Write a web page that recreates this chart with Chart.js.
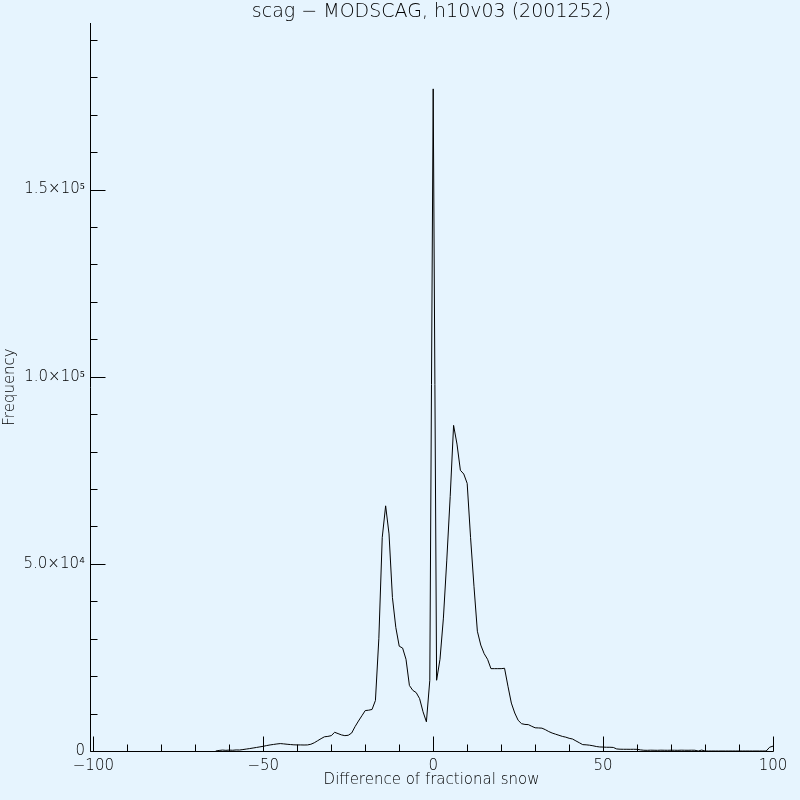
<!DOCTYPE html>
<html>
<head>
<meta charset="utf-8">
<script src="https://cdn.jsdelivr.net/npm/chart.js@4.4.0/dist/chart.umd.min.js"></script>
<style>
  html, body { margin: 0; padding: 0; background: #e6f4fe; }
  #wrap { width: 800px; height: 800px; }
</style>
</head>
<body>
<div id="wrap"><canvas id="chart" width="800" height="800"></canvas></div>
<script>
// histogram bins (difference of fractional snow, %)
const diffBins = [
  -64, -63, -62, -61, -60, -59, -58, -57, -56, -55,
  -54, -53, -52, -51, -50, -49, -48, -47, -46, -45,
  -44, -43, -42, -41, -40, -39, -38, -37, -36, -35,
  -34, -33, -32, -31, -30, -29, -28, -27, -26, -25,
  -24, -23, -22, -21, -20, -19, -18, -17, -16, -15,
  -14, -13, -12, -11, -10, -9, -8, -7, -6, -5,
  -4, -3, -2, -1, 0, 1, 2, 3, 4, 5,
  6, 7, 8, 9, 10, 11, 12, 13, 14, 15,
  16, 17, 18, 19, 20, 21, 22, 23, 24, 25,
  26, 27, 28, 29, 30, 31, 32, 33, 34, 35,
  36, 37, 38, 39, 40, 41, 42, 43, 44, 45,
  46, 47, 48, 49, 50, 51, 52, 53, 54, 55,
  56, 57, 58, 59, 60, 61, 62, 63, 64, 65,
  66, 67, 68, 69, 70, 71, 72, 73, 74, 75,
  76, 77, 78, 79, 80, 81, 82, 83, 84, 85,
  86, 87, 88, 89, 90, 91, 92, 93, 94, 95,
  96, 97, 98, 99, 100
];
const frequency = [
  0, 150, 250, 180, 240, 200, 280, 260, 380, 520,
  650, 800, 950, 1100, 1260, 1450, 1620, 1750, 1880, 1980,
  1900, 1800, 1720, 1650, 1620, 1620, 1600, 1620, 1800, 2200,
  2750, 3300, 3800, 3900, 4100, 5000, 4650, 4300, 4100, 4200,
  4800, 6500, 8000, 9400, 10800, 10900, 11100, 13500, 30000, 57000,
  65500, 58000, 41000, 33000, 28000, 27500, 24500, 17500, 16200, 15600,
  14000, 10500, 7800, 18900, 176900, 18900, 24500, 35500, 51000, 68000,
  87000, 82000, 75000, 74000, 71500, 57000, 44000, 32000, 28300, 26000,
  24500, 22000, 22000, 22000, 22000, 22100, 17300, 12800, 10150, 8200,
  7300, 7100, 7050, 6600, 6200, 6160, 6100, 5700, 5200, 4800,
  4500, 4200, 3900, 3700, 3400, 3200, 2700, 2200, 1700, 1650,
  1550, 1400, 1200, 1080, 1050, 1000, 1000, 950, 550, 480,
  460, 460, 450, 460, 450, 300, 200, 180, 220, 200,
  180, 220, 200, 190, 210, 200, 180, 220, 200, 190,
  210, 200, 0, 250, 0, 0, 0, 0, 0, 0,
  0, 0, 0, 0, 0, 0, 0, 0, 0, 0,
  0, 0, 0, 1000, 1300
];

const xTicks = [-100, -50, 0, 50, 100];
const xMinorTicks = [-90, -80, -70, -60, -40, -30, -20, -10, 10, 20, 30, 40, 60, 70, 80, 90];
const yTicks = [0, 50000, 100000, 150000];
const yTickLabels = ['0', '5.0×10⁴', '1.0×10⁵', '1.5×10⁵'];
const yMinorTicks = [10000, 20000, 30000, 40000, 60000, 70000, 80000, 90000,
  110000, 120000, 130000, 140000, 160000, 170000, 180000, 190000];

const BG = '#e6f4fe';
const FONT = 'DejaVu Sans';

// IDL-style axes: inward ticks, no box on top/right
const idlAxes = {
  id: 'idlAxes',
  beforeDraw(chart) {
    const ctx = chart.ctx;
    ctx.save();
    ctx.fillStyle = BG;
    ctx.fillRect(0, 0, chart.width, chart.height);
    ctx.restore();
  },
  afterDatasetsDraw(chart) {
    const { ctx, chartArea: a, scales: { x, y } } = chart;
    const left = Math.round(a.left) + 0.5;
    const bottom = Math.round(a.bottom) + 0.5;
    ctx.save();
    ctx.strokeStyle = '#000';
    ctx.lineWidth = 1;
    ctx.beginPath();
    ctx.moveTo(left, Math.round(a.top));
    ctx.lineTo(left, bottom);
    ctx.lineTo(Math.round(a.right) + 0.5, bottom);
    xTicks.forEach(v => {
      const px = Math.round(x.getPixelForValue(v)) + 0.5;
      ctx.moveTo(px, bottom); ctx.lineTo(px, bottom - 15);
    });
    xMinorTicks.forEach(v => {
      const px = Math.round(x.getPixelForValue(v)) + 0.5;
      ctx.moveTo(px, bottom); ctx.lineTo(px, bottom - 7);
    });
    yTicks.forEach(v => {
      const py = Math.round(y.getPixelForValue(v)) + 0.5;
      ctx.moveTo(left, py); ctx.lineTo(left + 15, py);
    });
    yMinorTicks.forEach(v => {
      const py = Math.round(y.getPixelForValue(v)) + 0.5;
      ctx.moveTo(left, py); ctx.lineTo(left + 7, py);
    });
    ctx.stroke();

    ctx.fillStyle = '#000';
    ctx.font = '200 19px "' + FONT + '"';
    ctx.textAlign = 'center';
    ctx.textBaseline = 'middle';
    ctx.fillText('scag − MODSCAG, h10v03 (2001252)', (a.left + a.right) / 2, 12);
    ctx.restore();
  }
};

new Chart(document.getElementById('chart'), {
  type: 'scatter',
  data: {
    datasets: [{
      data: diffBins.map((b, i) => ({ x: b, y: frequency[i] })),
      showLine: true,
      borderColor: '#000',
      borderWidth: 1,
      pointRadius: 0,
      tension: 0
    }]
  },
  options: {
    responsive: false,
    animation: false,
    layout: { padding: { left: 0, right: 27, top: 23, bottom: 0 } },
    plugins: { legend: { display: false }, tooltip: { enabled: false } },
    scales: {
      x: {
        type: 'linear',
        min: -101,
        max: 100,
        afterBuildTicks: s => { s.ticks = xTicks.map(v => ({ value: v })); },
        afterFit: s => { s.height = 49; },
        grid: { display: false, drawTicks: false },
        border: { display: false },
        ticks: {
          color: '#000',
          padding: 6,
          maxRotation: 0,
          font: { family: FONT, size: 15, weight: 200 },
          callback: v => (v < 0 ? '−' + Math.abs(v) : String(v))
        },
        title: {
          display: true,
          text: 'Difference of fractional snow',
          color: '#000',
          font: { family: FONT, size: 15, weight: 200, lineHeight: 1 },
          padding: { top: 0, bottom: 12 }
        }
      },
      y: {
        type: 'linear',
        min: 0,
        max: 194500,
        afterBuildTicks: s => { s.ticks = yTicks.map(v => ({ value: v })); },
        afterFit: s => { s.width = 90; },
        grid: { display: false, drawTicks: false },
        border: { display: false },
        ticks: {
          color: '#000',
          padding: 5,
          font: { family: FONT, size: 15, weight: 200 },
          callback: v => yTickLabels[yTicks.indexOf(v)]
        },
        title: {
          display: true,
          text: 'Frequency',
          color: '#000',
          font: { family: FONT, size: 15, weight: 200, lineHeight: 1 },
          padding: { top: 3, bottom: 0 }
        }
      }
    }
  },
  plugins: [idlAxes]
});
</script>
</body>
</html>
